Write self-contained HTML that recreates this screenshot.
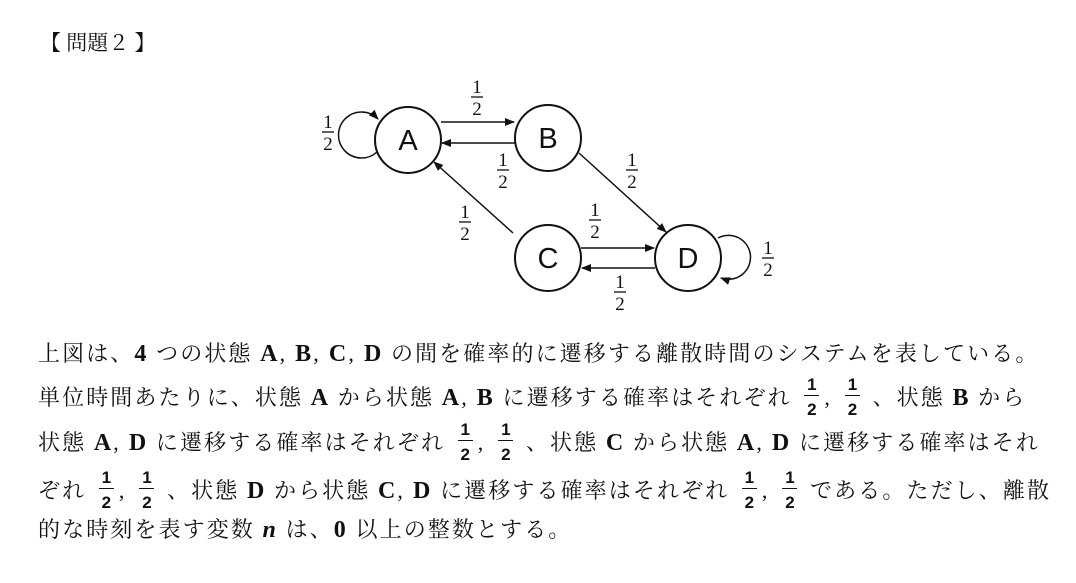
<!DOCTYPE html>
<html><head><meta charset="utf-8"><style>
body{margin:0;width:1076px;height:583px;background:#fff;position:relative;overflow:hidden;font-family:"Liberation Serif","Noto Serif CJK SC",serif;color:#111}
.l{position:absolute;left:38px;font-size:22px;line-height:22px;height:22px;white-space:nowrap;letter-spacing:2.1px}
.f{display:inline-block;position:relative;width:15px;height:22px;vertical-align:top;margin:0 5px;letter-spacing:0}
.f i{position:absolute;left:0;top:-13px;width:15px;text-align:center;font-style:normal;font-family:"Liberation Sans",sans-serif;font-weight:bold;font-size:17px;line-height:21px}
.f i span{display:block;border-top:1.6px solid #111;padding-top:3px}
.m{font-family:"Liberation Serif",serif;font-size:24px;font-weight:bold}
.c{margin-right:8px}
</style></head><body>
<div class="l" style="top:32px;left:40px;font-size:21px;letter-spacing:0">【 問題２ 】</div>
<svg width="1076" height="583" style="position:absolute;left:0;top:0" font-family="Liberation Sans, sans-serif">
<defs><marker id="a" markerWidth="10" markerHeight="8" refX="9" refY="4" orient="auto" markerUnits="userSpaceOnUse"><path d="M0,0 L10,4 L0,8z" fill="#111"/></marker></defs>
<g fill="none" stroke="#111" stroke-width="2">
<circle cx="408" cy="140" r="33"/><circle cx="548" cy="138" r="33"/>
<circle cx="548" cy="258" r="33"/><circle cx="688" cy="258" r="33"/>
</g>
<g stroke="#111" stroke-width="1.5" fill="none" marker-end="url(#a)">
<line x1="441" y1="122" x2="514" y2="122"/>
<line x1="515" y1="143" x2="442" y2="143"/>
<line x1="579" y1="153" x2="666" y2="232"/>
<line x1="513" y1="233" x2="434" y2="162"/>
<line x1="581" y1="248" x2="654" y2="248"/>
<line x1="655" y1="268" x2="582" y2="268"/>
<path d="M377,152 A23,23 0 1 1 378,119"/>
<path d="M718,238 A22,22 0 1 1 721,278"/>
</g>
<g font-size="29" text-anchor="middle" fill="#111">
<text x="408" y="150">A</text><text x="548" y="148">B</text><text x="548" y="268">C</text><text x="688" y="268">D</text>
</g>
<g font-size="19" text-anchor="middle" fill="#111" font-family="Liberation Serif, serif">
<g transform="translate(477,97)"><text y="-4">1</text><line x1="-6" x2="6" stroke="#111" stroke-width="1.3"/><text y="18">2</text></g>
<g transform="translate(328,132)"><text y="-4">1</text><line x1="-6" x2="6" stroke="#111" stroke-width="1.3"/><text y="18">2</text></g>
<g transform="translate(503,170)"><text y="-4">1</text><line x1="-6" x2="6" stroke="#111" stroke-width="1.3"/><text y="18">2</text></g>
<g transform="translate(632,170)"><text y="-4">1</text><line x1="-6" x2="6" stroke="#111" stroke-width="1.3"/><text y="18">2</text></g>
<g transform="translate(465,222)"><text y="-4">1</text><line x1="-6" x2="6" stroke="#111" stroke-width="1.3"/><text y="18">2</text></g>
<g transform="translate(595,220)"><text y="-4">1</text><line x1="-6" x2="6" stroke="#111" stroke-width="1.3"/><text y="18">2</text></g>
<g transform="translate(620,292)"><text y="-4">1</text><line x1="-6" x2="6" stroke="#111" stroke-width="1.3"/><text y="18">2</text></g>
<g transform="translate(768,258)"><text y="-4">1</text><line x1="-6" x2="6" stroke="#111" stroke-width="1.3"/><text y="18">2</text></g>
</g>
</svg>
<div class="l" style="top:343px">上図は、<span class="m">4</span> つの状態 <span class="m">A</span><span class="c">,</span><span class="m">B</span><span class="c">,</span><span class="m">C</span><span class="c">,</span><span class="m">D</span> の間を確率的に遷移する離散時間のシステムを表している。</div>
<div class="l" style="top:387px">単位時間あたりに、状態 <span class="m">A</span> から状態 <span class="m">A</span><span class="c">,</span><span class="m">B</span> に遷移する確率はそれぞれ <span class="f"><i>1<span>2</span></i></span><span class="c">,</span><span class="f"><i>1<span>2</span></i></span> 、状態 <span class="m">B</span> から</div>
<div class="l" style="top:432px">状態 <span class="m">A</span><span class="c">,</span><span class="m">D</span> に遷移する確率はそれぞれ <span class="f"><i>1<span>2</span></i></span><span class="c">,</span><span class="f"><i>1<span>2</span></i></span> 、状態 <span class="m">C</span> から状態 <span class="m">A</span><span class="c">,</span><span class="m">D</span> に遷移する確率はそれ</div>
<div class="l" style="top:480px">ぞれ <span class="f"><i>1<span>2</span></i></span><span class="c">,</span><span class="f"><i>1<span>2</span></i></span> 、状態 <span class="m">D</span> から状態 <span class="m">C</span><span class="c">,</span><span class="m">D</span> に遷移する確率はそれぞれ <span class="f"><i>1<span>2</span></i></span><span class="c">,</span><span class="f"><i>1<span>2</span></i></span> である。ただし、離散</div>
<div class="l" style="top:519px">的な時刻を表す変数 <i class="m">n</i> は、<span class="m">0</span> 以上の整数とする。</div>
</body></html>
